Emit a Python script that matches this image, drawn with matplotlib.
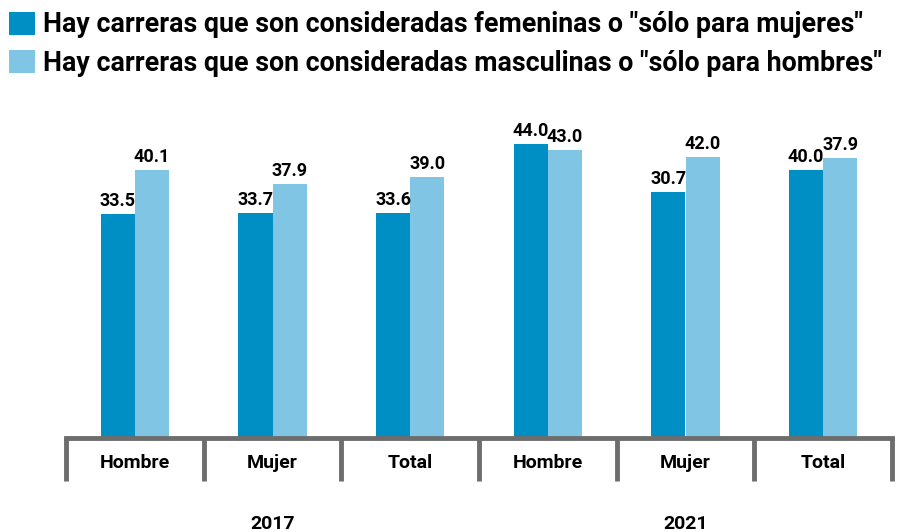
import matplotlib.pyplot as plt
import numpy as np
from matplotlib.lines import Line2D

# data
categories = ["Hombre", "Mujer", "Total", "Hombre", "Mujer", "Total"]
years = ["2017", "2021"]
# printed labels
femeninas = [33.5, 33.7, 33.6, 44.0, 30.7, 40.0]
masculinas = [40.1, 37.9, 39.0, 43.0, 42.0, 37.9]
# bar heights as actually drawn in the source graphic (not always equal to the labels)
fem_heights = [33.5, 33.7, 33.6, 44.0, 36.8, 40.1]
masc_heights = [40.1, 37.9, 39.0, 43.0, 42.0, 41.8]
series_labels = ['Hay carreras que son consideradas femeninas o "sólo para mujeres"',
                 'Hay carreras que son consideradas masculinas o "sólo para hombres"']

dark = "#008fc5"
light = "#80c6e4"
gray = "#6d6d6d"

plt.rcParams['font.family'] = ['Roboto', 'DejaVu Sans']

fig = plt.figure(figsize=(9.08, 5.32), dpi=100)
ax_h = 334.5
ax = fig.add_axes([66 / 908, 94 / 532, 826 / 908, ax_h / 532])

x = np.arange(len(categories))
w = 0.247
b1 = ax.bar(x - w / 2, fem_heights, w, color=dark, label=series_labels[0])
b2 = ax.bar(x + w / 2, masc_heights, w, color=light, label=series_labels[1])

# value labels above each bar
for bars, vals in ((b1, femeninas), (b2, masculinas)):
    for rect, v in zip(bars, vals):
        ax.text(rect.get_x() + rect.get_width() / 2, rect.get_height() + 0.6, "%.1f" % v,
                ha="center", va="bottom", fontsize=13, fontweight="bold")

ax.set_xlim(-0.5, len(categories) - 0.5)
ax.set_ylim(0, 50)
ax.set_yticks([])
ax.set_xticks([])
for s in ("top", "right", "left"):
    ax.spines[s].set_visible(False)
ax.spines["bottom"].set_color(gray)
ax.spines["bottom"].set_linewidth(3.5)

# separators under the axis
trans = ax.get_xaxis_transform()
for sep in np.arange(len(categories) + 1) - 0.5:
    ax.add_line(Line2D([sep, sep], [0.0, -43 / ax_h], transform=trans,
                       color=gray, lw=3.5, clip_on=False, solid_capstyle="butt"))

for xi, c in zip(x, categories):
    ax.text(xi, -25 / ax_h, c, transform=trans, ha="center", va="center",
            fontsize=14, fontweight="bold")

for i, yr in enumerate(years):
    ax.text(1 + 3 * i, -86 / ax_h, yr, transform=trans, ha="center",
            va="center", fontsize=14, fontweight="bold")

fig.legend(handles=[b1, b2], loc="upper left", bbox_to_anchor=(4 / 908, 1 - 6 / 532),
           frameon=False, prop={"size": 19.3, "weight": "bold"},
           handlelength=0.94, handleheight=0.94, handletextpad=0.33,
           labelspacing=0.42, borderaxespad=0, borderpad=0.2)

fig.savefig("out.png", dpi=100)
